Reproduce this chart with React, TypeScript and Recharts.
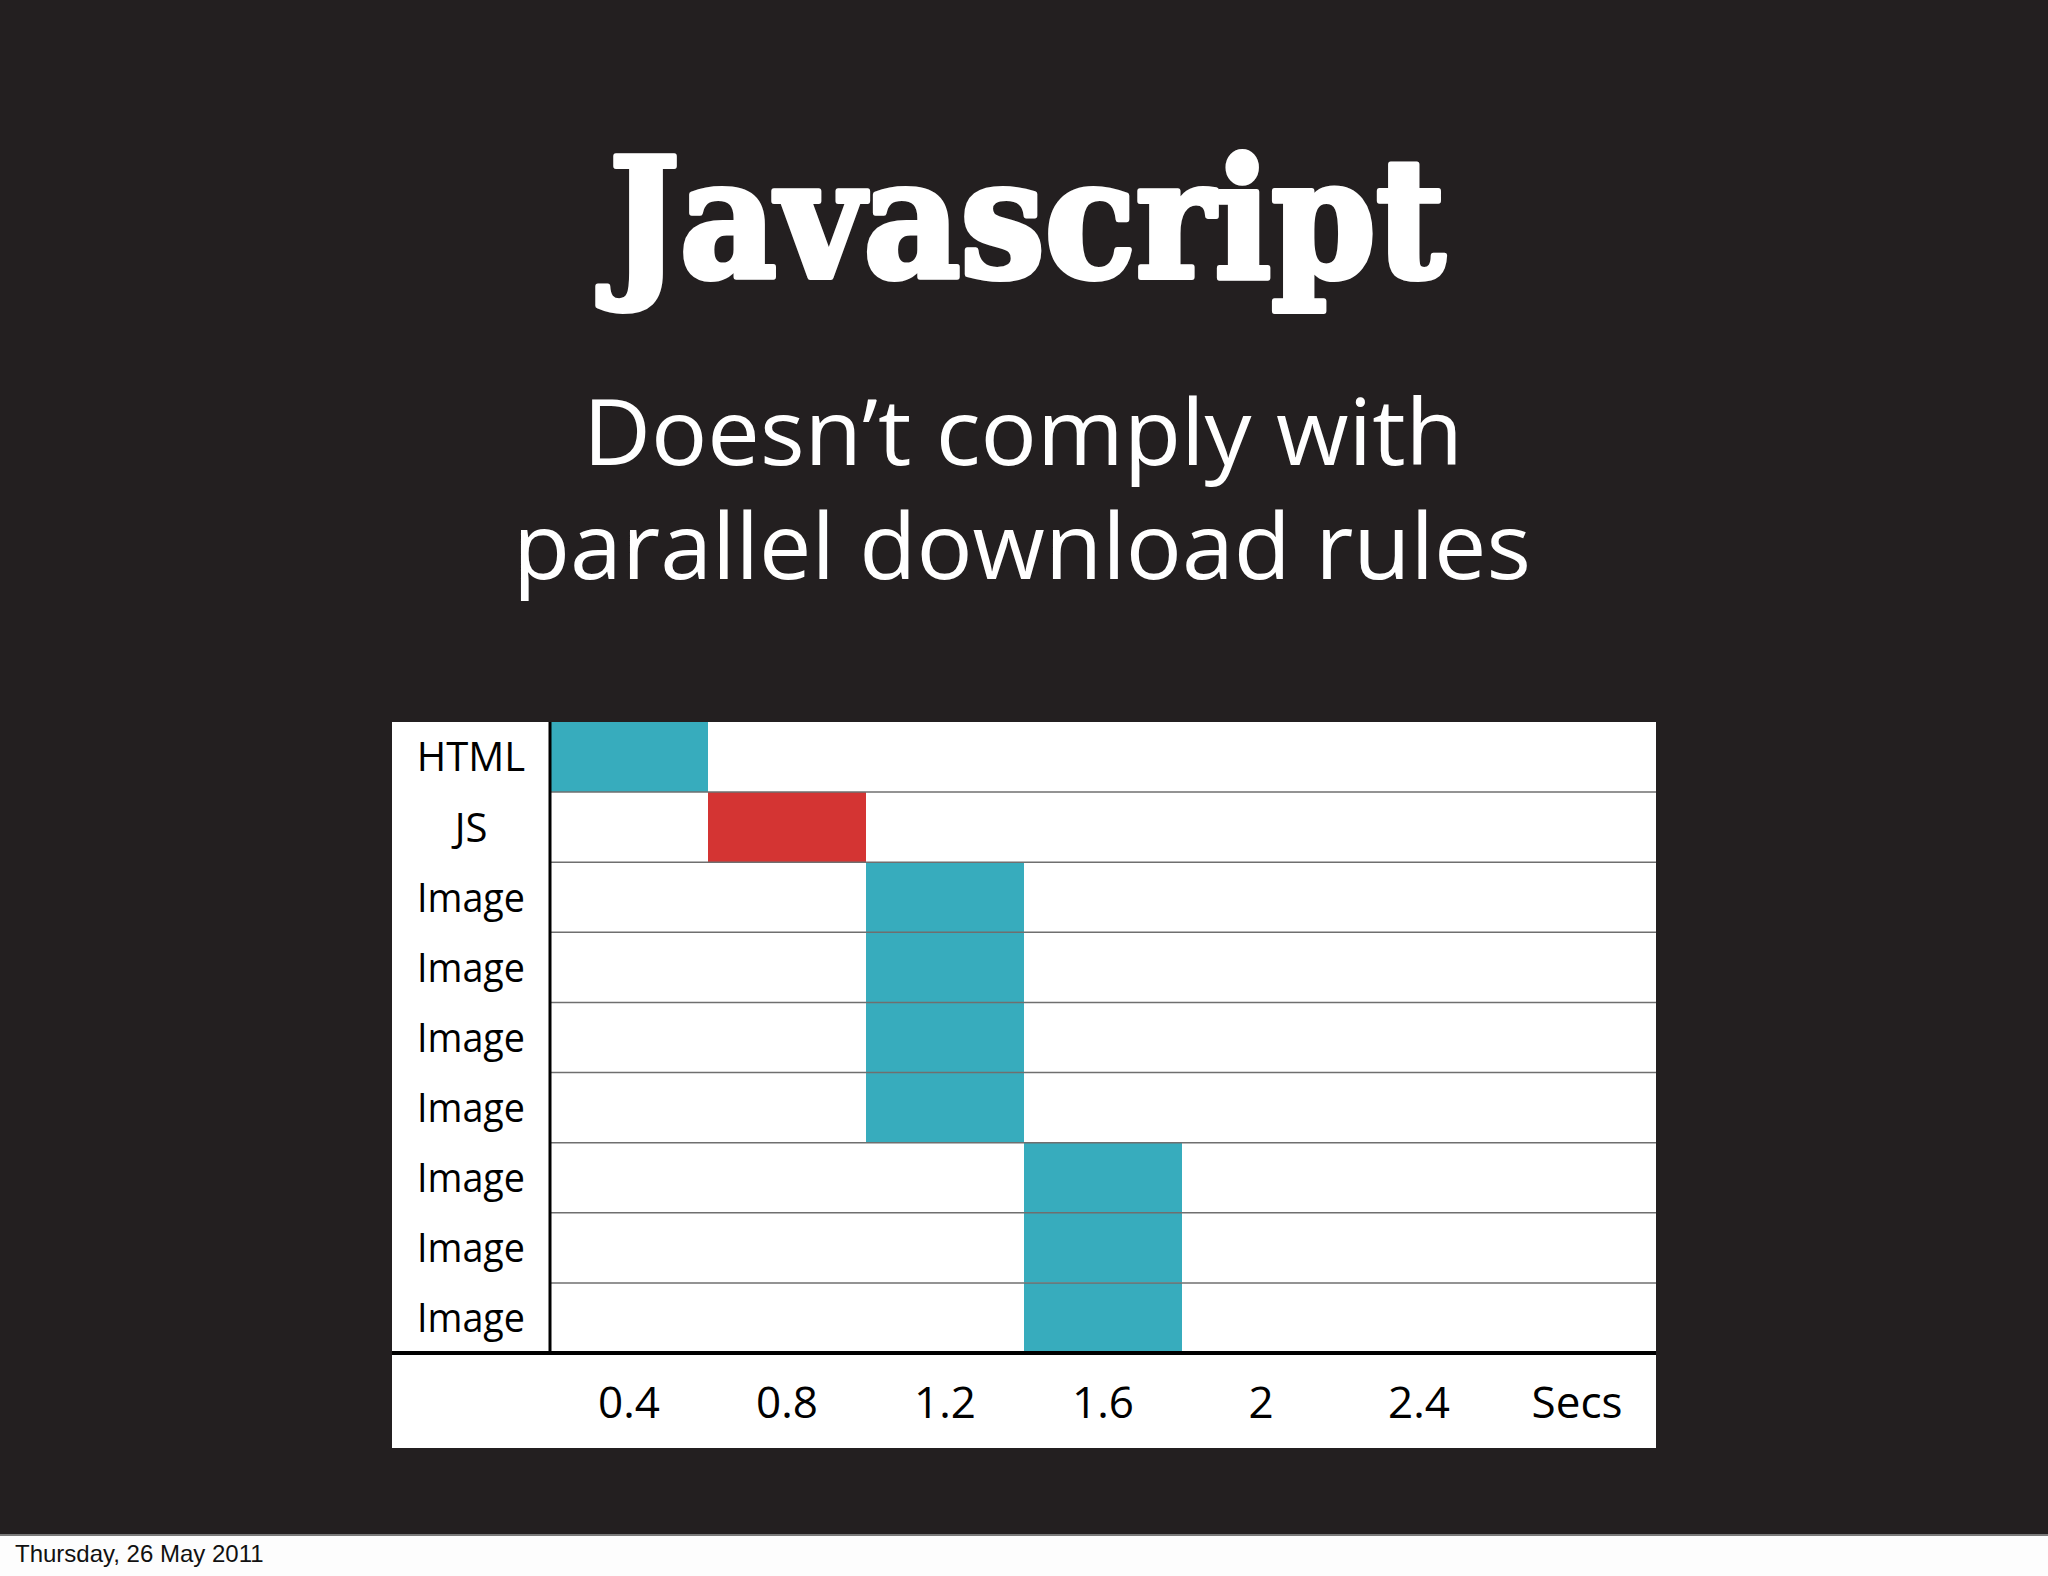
import { BarChart, Bar, XAxis, YAxis, Cell, ReferenceLine } from "recharts";

// rows of the waterfall, top to bottom
const rowLabels = ["HTML", "JS", "Image", "Image", "Image", "Image", "Image", "Image", "Image"];
const rowStarts = [0, 0.4, 0.8, 0.8, 0.8, 0.8, 1.2, 1.2, 1.2];
const rowEnds = [0.4, 0.8, 1.2, 1.2, 1.2, 1.2, 1.6, 1.6, 1.6];
const rowKinds = ["html", "js", "img", "img", "img", "img", "img", "img", "img"];

// x axis: one label per 0.4s column, written at the column centre
const tickValues = [0.2, 0.6, 1.0, 1.4, 1.8, 2.2, 2.6];
const tickLabels = ["0.4", "0.8", "1.2", "1.6", "2", "2.4", "Secs"];
const xMax = 2.8;

const COLORS: Record<string, string> = {
  html: "#37acbd",
  js: "#d43433",
  img: "#37acbd",
};

const SANS = "'Open Sans', 'Noto Sans', sans-serif";
const LABEL_W = 158;
const AXIS_H = 95;
const CHART_W = 1264;
const CHART_H = 726;

const data = rowLabels.map((label, i) => ({
  id: `r${i}`,
  label,
  kind: rowKinds[i],
  span: [rowStarts[i], rowEnds[i]],
}));

function RowTick({ x, y, payload }: any) {
  const row = data.find((d) => d.id === payload.value);
  return (
    <text
      x={x - LABEL_W / 2}
      y={y}
      dy="0.36em"
      textAnchor="middle"
      fill="#000"
      fontSize={40}
      fontFamily={SANS}
      textLength={row && row.label === "Image" ? 108 : undefined}
      lengthAdjust="spacingAndGlyphs"
    >
      {row ? row.label : ""}
    </text>
  );
}

export default function App() {
  return (
    <div
      style={{
        position: "absolute",
        left: 0,
        top: 0,
        width: 2048,
        height: 1576,
        background: "#fdfdfd",
        overflow: "hidden",
      }}
    >
      <div
        style={{
          position: "absolute",
          left: 0,
          top: 0,
          width: 2048,
          height: 1534,
          background: "#231f20",
          borderBottom: "2px solid #7a7a7a",
        }}
      />
      <svg width={2048} height={1576} style={{ position: "absolute", left: 0, top: 0 }}>
        <text
          x={1027}
          y={277}
          textAnchor="middle"
          fill="#fff"
          stroke="#fff"
          strokeWidth={6}
          strokeLinejoin="round"
          fontSize={164}
          fontWeight="bold"
          fontFamily="'DejaVu Serif', serif"
          textLength={836}
          lengthAdjust="spacingAndGlyphs"
        >
          Javascript
        </text>
        <text
          x={1023}
          y={465}
          textAnchor="middle"
          fill="#fff"
          fontSize={92}
          fontFamily={SANS}
          textLength={880}
          lengthAdjust="spacingAndGlyphs"
        >
          Doesn’t comply with
        </text>
        <text
          x={1022}
          y={579}
          textAnchor="middle"
          fill="#fff"
          fontSize={92}
          fontFamily={SANS}
          textLength={1018}
          lengthAdjust="spacingAndGlyphs"
        >
          parallel download rules
        </text>
        <text x={15} y={1562} fill="#111" fontSize={24} fontFamily="'Liberation Sans', Arial, sans-serif">
          Thursday, 26 May 2011
        </text>
      </svg>

      <div
        style={{
          position: "absolute",
          left: 392,
          top: 722,
          width: CHART_W,
          height: CHART_H,
          background: "#fff",
        }}
      >
        <BarChart
          width={CHART_W}
          height={CHART_H}
          data={data}
          layout="vertical"
          margin={{ top: 0, right: 0, bottom: 0, left: 0 }}
          barCategoryGap={0}
          barGap={0}
        >
          <XAxis
            type="number"
            domain={[0, xMax]}
            ticks={tickValues}
            tickFormatter={(_v: number, i: number) => tickLabels[i]}
            height={AXIS_H}
            tickLine={false}
            tickSize={0}
            tickMargin={34}
            axisLine={{ stroke: "#000", strokeWidth: 4 }}
            tick={{ fill: "#000", fontSize: 44, fontFamily: SANS }}
            allowDataOverflow
          />
          <YAxis
            type="category"
            dataKey="id"
            width={LABEL_W}
            tickLine={false}
            tickSize={0}
            tickMargin={0}
            axisLine={{ stroke: "#000", strokeWidth: 3 }}
            tick={<RowTick />}
            interval={0}
          />
          <Bar dataKey="span" isAnimationActive={false}>
            {data.map((d) => (
              <Cell key={d.id} fill={COLORS[d.kind]} />
            ))}
          </Bar>
          {data.slice(1).map((d) => (
            <ReferenceLine
              key={`sep-${d.id}`}
              y={d.id}
              position="start"
              stroke="#6f6f6f"
              strokeWidth={1.5}
            />
          ))}
        </BarChart>
        <div
          style={{
            position: "absolute",
            left: 0,
            width: CHART_W,
            top: CHART_H - AXIS_H - 2,
            height: 4,
            background: "#000",
          }}
        />
      </div>
    </div>
  );
}
